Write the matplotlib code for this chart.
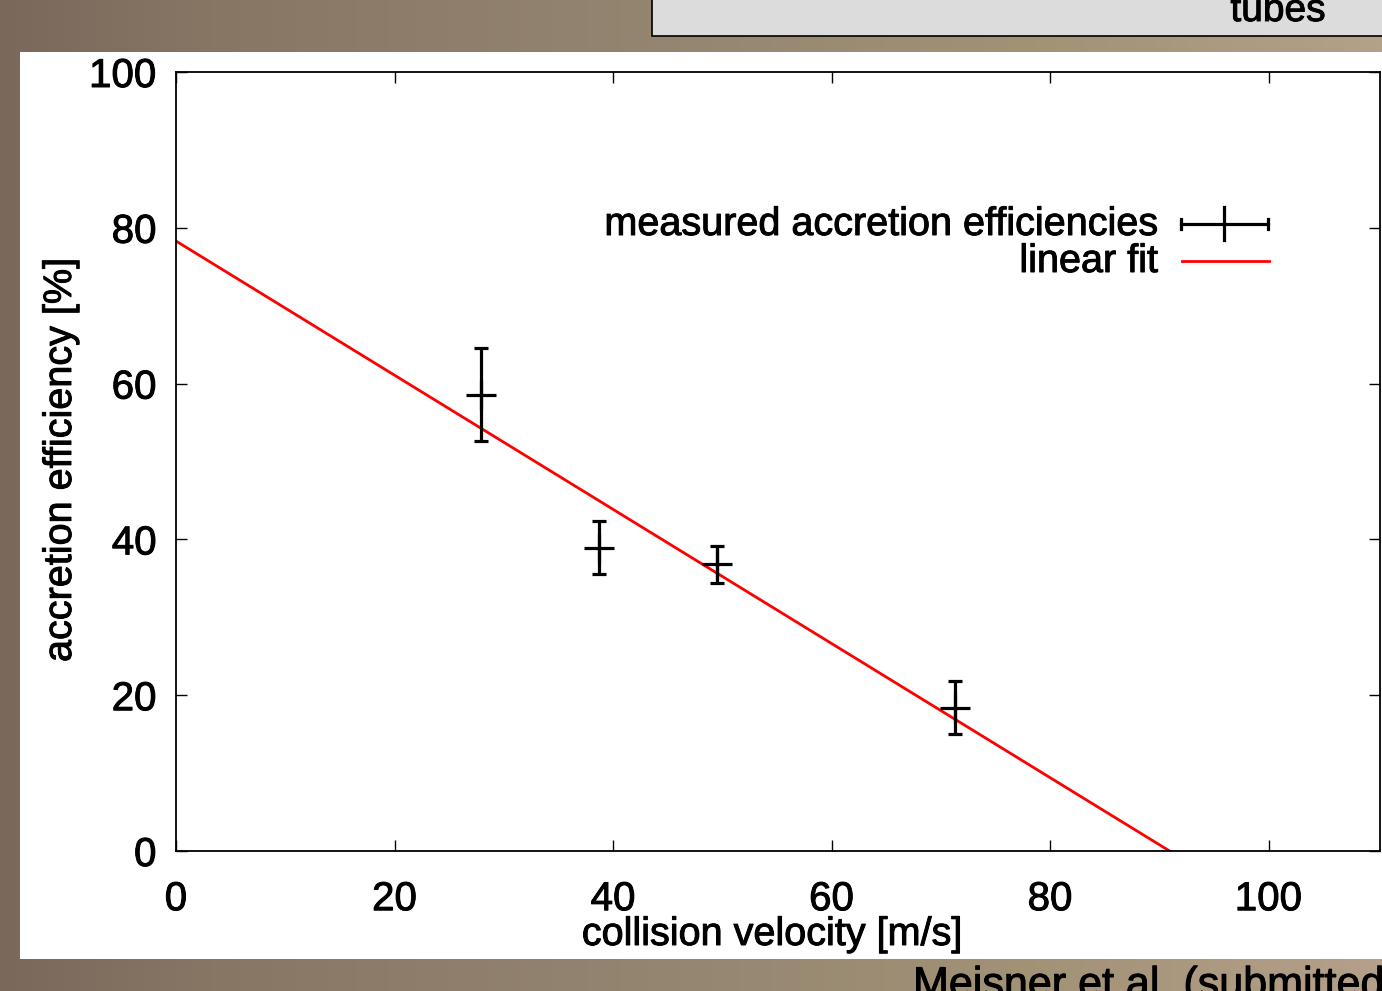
import numpy as np
import matplotlib
matplotlib.use("Agg")
import matplotlib.pyplot as plt
from matplotlib.colors import LinearSegmentedColormap
from matplotlib.patches import Rectangle
import matplotlib.patheffects as pe

plt.rcParams['font.family'] = ['Liberation Sans', 'DejaVu Sans']

# ---- data ----
velocity = [27.9, 38.7, 49.5, 71.3]          # m/s
efficiency = [58.6, 38.9, 36.8, 18.4]        # %
eff_error = [6.0, 3.4, 2.4, 3.4]             # %
fit_intercept = 78.3
fit_slope = -0.861
x_ticks = [0, 20, 40, 60, 80, 100]
y_ticks = [0, 20, 40, 60, 80, 100]
legend_labels = ["measured accretion efficiencies", "linear fit"]

W, H = 1382, 991
fig = plt.figure(figsize=(W / 100, H / 100), dpi=100)
heavy = [pe.withStroke(linewidth=0.7, foreground='black')]

def fx(px):
    return px / W

def fy(py):
    return (H - py) / H

# background gradient
bg = fig.add_axes([0, 0, 1, 1], zorder=-10)
bg.set_axis_off()
cmap = LinearSegmentedColormap.from_list(
    "bg", [(0.0, "#7a695b"), (0.15, "#877664"), (0.45, "#938470"),
           (0.75, "#a29276"), (1.0, "#b5a08a")])
grad = np.linspace(0, 1, 256)[None, :]
bg.imshow(grad, aspect='auto', cmap=cmap, extent=[0, 1, 0, 1])
bg.set_xlim(0, 1)
bg.set_ylim(0, 1)

# white panel
fig.patches.append(Rectangle((fx(20), fy(959)), fx(W + 5) - fx(20), fy(52) - fy(959),
                             transform=fig.transFigure, facecolor='white',
                             edgecolor='none', zorder=-5))
# top gray box
fig.patches.append(Rectangle((fx(652), fy(36)), fx(W + 10) - fx(652), fy(-10) - fy(36),
                             transform=fig.transFigure, facecolor='#dcdcdc',
                             edgecolor='black', linewidth=1.2, zorder=-4))
fig.text(fx(1278), fy(21), "tubes", ha='center', va='baseline', fontsize=28,
         color='black', path_effects=heavy)
fig.text(fx(913), fy(997), "Meisner et al. (submitted)", ha='left', va='baseline',
         fontsize=31, color='black', path_effects=heavy)

# main axes
ax = fig.add_axes([fx(176), fy(851), fx(1380) - fx(176), fy(72) - fy(851)])
ax.set_facecolor('white')
ax.set_xlim(0, 110.2)
ax.set_ylim(0, 100)
ax.set_xticks(x_ticks)
ax.set_yticks(y_ticks)
ax.tick_params(direction='in', length=8, width=1.0, top=True, right=True,
               labelsize=29, pad=14)
ax.tick_params(axis='x', pad=21)
for lab in ax.get_xticklabels() + ax.get_yticklabels():
    lab.set_path_effects(heavy)
for s in ax.spines.values():
    s.set_linewidth(1.3)

ax.set_xlabel("collision velocity [m/s]", fontsize=28.5, path_effects=heavy)
ax.set_ylabel("accretion efficiency [%]", fontsize=28.5, path_effects=heavy)
ax.xaxis.label.set_va('center')
ax.yaxis.label.set_va('center')
ax.xaxis.set_label_coords((772 - 176) / 1204, (851 - 934) / 779)
ax.yaxis.set_label_coords((60 - 176) / 1204, (851 - 460) / 779)

# fit line
xf = np.array([0, 110.2])
ax.plot(xf, fit_intercept + fit_slope * xf, color='#ff0000', lw=2.0, zorder=2)

# data with error bars
ax.errorbar(velocity, efficiency, yerr=eff_error, fmt='+', color='black',
            ms=22, mew=2.3, elinewidth=2.3, capsize=5, capthick=2.3, zorder=3)

# manual gnuplot-style legend
tr = ax.transAxes
def axx(px):
    return (px - 176) / (1380 - 176)
def axy(py):
    return (851 - py) / (851 - 72)

ax.text(axx(1158), axy(224), legend_labels[0], ha='right', va='center',
        fontsize=28.5, transform=tr, path_effects=heavy)
ax.text(axx(1158), axy(261), legend_labels[1], ha='right', va='center',
        fontsize=28.5, transform=tr, path_effects=heavy)
ax.plot([axx(1181), axx(1268)], [axy(224), axy(224)], color='black', lw=2.3,
        transform=tr, clip_on=False)
for xc in (1181, 1268):
    ax.plot([axx(xc), axx(xc)], [axy(219), axy(229)], color='black', lw=2.3,
            transform=tr, clip_on=False)
ax.plot([axx(1224), axx(1224)], [axy(207), axy(240)], color='black', lw=2.3,
        transform=tr, clip_on=False)
ax.plot([axx(1182), axx(1269)], [axy(261), axy(261)], color='#ff0000', lw=2.0,
        transform=tr, clip_on=False)

fig.savefig("out.png", dpi=100)
